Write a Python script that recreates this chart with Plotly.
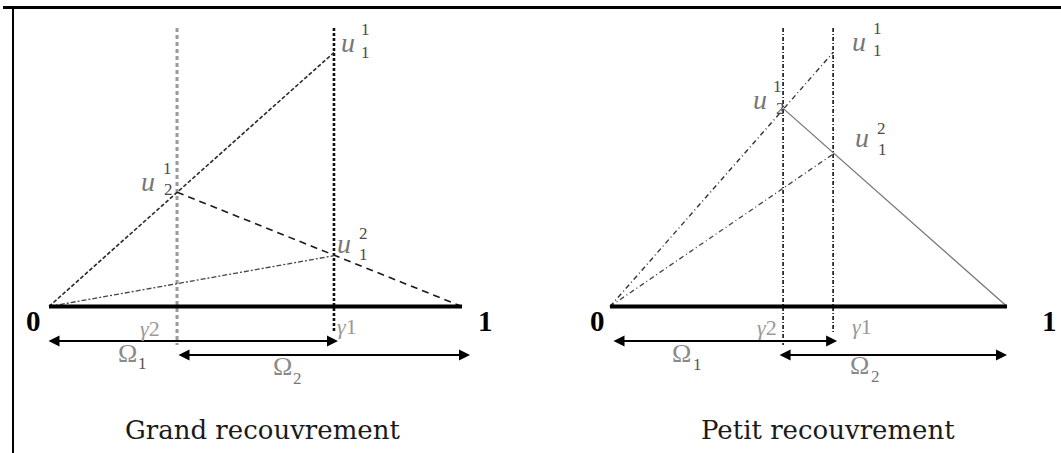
import plotly.graph_objects as go

# ---------------- data ----------------
panel_titles = ["Grand recouvrement", "Petit recouvrement"]
gamma1 = [0.69, 0.562]     # right end of Omega_1
gamma2 = [0.31, 0.436]     # left end of Omega_2
u1_1 = [1.00, 1.00]        # u_1^1 at gamma1
u2_1 = [0.45, 0.78]        # u_2^1 at gamma2
u1_2 = [0.20, 0.60]        # u_1^2 at gamma1

# ---------------- layout constants ----------------
W, H = 1061, 453
ORIG = [49, 610]      # pixel of x=0 for each panel
SCALE = [413, 397]    # pixels per unit x for each panel
Y0, YS = 306.5, 254   # pixel of y=0, pixels per unit y
XREF = ["x", "x2"]

SERIF = "Liberation Serif"

fig = go.Figure()

def seg(p, xs, ys, color, width, dash):
    fig.add_trace(go.Scatter(x=xs, y=ys, mode="lines", xaxis=XREF[p], yaxis="y",
                             line=dict(color=color, width=width, dash=dash),
                             hoverinfo="skip", showlegend=False))

def ytop(px):
    return (Y0 - px) / YS

line_styles = [
    dict(A=("#2a2a2a", 1.6, "4px,2px"), B=("#1a1a1a", 1.6, "7px,5px"),
         C=("#444444", 1.3, "5px,2px,2px,2px"),
         V2=("#9a9a9a", 3.0, "4px,3px"), V1=("#111111", 2.6, "3px,2px")),
    dict(A=("#333333", 1.4, "5px,3px,1px,3px"), B=("#777777", 1.3, "solid"),
         C=("#444444", 1.3, "5px,3px,1px,3px"),
         V2=("#111111", 1.6, "4px,2px,1px,2px"), V1=("#111111", 1.6, "4px,2px,1px,2px")),
]

v_top = ytop(28)
v2_bot = ytop(345)
v1_bot = ytop(333)

for p in range(2):
    st = line_styles[p]
    # vertical interface lines
    seg(p, [gamma2[p], gamma2[p]], [v_top, v2_bot], *st["V2"])
    seg(p, [gamma1[p], gamma1[p]], [v_top, v1_bot], *st["V1"])
    # iterates
    seg(p, [0, gamma1[p]], [0, u1_1[p]], *st["A"])
    seg(p, [gamma2[p], 1], [u2_1[p], 0], *st["B"])
    seg(p, [0, gamma1[p]], [0, u1_2[p]], *st["C"])
    # domain [0,1]
    seg(p, [0, 1], [0, 0], "#000000", 4, "solid")

ann = []

def label(p, x, y, text, dx, dy, size, color, family=SERIF, bold=False):
    if bold:
        text = "<b>" + text + "</b>"
    ann.append(dict(x=x, y=y, xref=XREF[p], yref="y", text=text, showarrow=False,
                    xshift=dx, yshift=dy, xanchor="center", yanchor="middle",
                    borderpad=0,
                    font=dict(family=family, size=size, color=color)))

def arrow(p, x0, x1, ypx):
    yv = ytop(ypx)
    ann.append(dict(x=x1, y=yv, ax=x0, ay=yv, xref=XREF[p], yref="y",
                    axref=XREF[p], ayref="y", text="", showarrow=True,
                    arrowhead=2, startarrowhead=2, arrowside="end+start",
                    arrowsize=1.1, startarrowsize=1.1, arrowwidth=2,
                    arrowcolor="#000000", standoff=0, startstandoff=0))

# Omega arrows (pixel tweaks converted to data)
arrow_ext = [dict(o1=(-2, 4), o2=(0, 8)), dict(o1=(2, 4), o2=(-5, 0))]
for p in range(2):
    s = SCALE[p]
    e = arrow_ext[p]
    arrow(p, 0 + e["o1"][0] / s, gamma1[p] + e["o1"][1] / s, 341)
    arrow(p, gamma2[p] + e["o2"][0] / s, 1 + e["o2"][1] / s, 355)

U_COL, D_COL = "#777777", "#4a4a4a"
U_SIZE, D_SIZE = 28, 17

# label offsets (pixels) per panel: (u dx,dy), (sup dx,dy), (sub dx,dy)
u_off = [
    dict(u11=[(14, 10), (32, 23), (32, 0)], u21=[(-29, 11), (-10, 24), (-9, 3)],
         u12=[(10, 12), (30, 22), (30, 1)]),
    dict(u11=[(26, 11), (44, 24), (44, 2)], u21=[(-23, 9), (-6, 22), (-3, 0)],
         u12=[(29, 17), (48, 26), (49, 5)]),
]
for p in range(2):
    o = u_off[p]
    pts = dict(u11=(gamma1[p], u1_1[p], "1", "1"),
               u21=(gamma2[p], u2_1[p], "1", "2"),
               u12=(gamma1[p], u1_2[p], "2", "1"))
    for k, (x, y, sup, sub) in pts.items():
        label(p, x, y, "<i>u</i>", *o[k][0], U_SIZE, U_COL)
        label(p, x, y, sup, *o[k][1], D_SIZE, D_COL)
        label(p, x, y, sub, *o[k][2], D_SIZE, D_COL)

# 0 and 1 end labels
end_off = [dict(z=(-16, -14), o=(23, -14.5)), dict(z=(-13, -14), o=(42, -14.5))]
for p in range(2):
    label(p, 0, 0, "0", *end_off[p]["z"], 29, "#000000", bold=True)
    label(p, 1, 0, "1", *end_off[p]["o"], 29, "#000000", bold=True)

# gamma labels
g_off = [dict(g2=(-27, -21.5), g1=(13, -20)), dict(g2=(-16, -21), g1=(29, -20))]
for p in range(2):
    label(p, gamma2[p], 0, "<i>γ</i>2", *g_off[p]["g2"], 22, "#999999")
    label(p, gamma1[p], 0, "<i>γ</i>1", *g_off[p]["g1"], 22, "#999999")

# Omega labels
om_off = [dict(o1=[(78, -46.5), (93, -56.5)], o2=[(105, -59.5), (120, -71.5)]),
          dict(o1=[(71, -46.5), (87, -57.5)], o2=[(76, -58.5), (92, -69.5)])]
OM_COL = "#8a8a8a"
for p in range(2):
    o = om_off[p]
    label(p, 0, 0, "Ω", *o["o1"][0], 26, OM_COL)
    label(p, 0, 0, "1", *o["o1"][1], 17, "#555555")
    label(p, gamma2[p], 0, "Ω", *o["o2"][0], 26, OM_COL)
    label(p, gamma2[p], 0, "2", *o["o2"][1], 17, "#777777")

# panel titles
title_x = [262.5, 827.5]
for p in range(2):
    ann.append(dict(x=title_x[p] / W, y=1 - 430 / H, xref="paper", yref="paper",
                    text=panel_titles[p], showarrow=False, xanchor="center",
                    yanchor="middle", borderpad=0,
                    font=dict(family="DejaVu Serif", size=26, color="#1a1a1a")))

# frame lines
shapes = [
    dict(type="line", xref="paper", yref="paper", x0=3 / W, x1=1, y0=1 - 7.5 / H,
         y1=1 - 7.5 / H, line=dict(color="#000000", width=3)),
    dict(type="line", xref="paper", yref="paper", x0=13 / W, x1=13 / W,
         y0=1 - 7 / H, y1=0, line=dict(color="#000000", width=2)),
]

fig.update_layout(
    width=W, height=H, autosize=False,
    margin=dict(l=0, r=0, t=0, b=0),
    paper_bgcolor="white", plot_bgcolor="white",
    showlegend=False,
    xaxis=dict(range=[-ORIG[0] / SCALE[0], (W - ORIG[0]) / SCALE[0]], domain=[0, 1],
               visible=False, fixedrange=True),
    xaxis2=dict(range=[-ORIG[1] / SCALE[1], (W - ORIG[1]) / SCALE[1]], domain=[0, 1],
                overlaying="x", visible=False, fixedrange=True),
    yaxis=dict(range=[-(H - Y0) / YS, Y0 / YS], domain=[0, 1], visible=False,
               fixedrange=True),
    annotations=ann,
    shapes=shapes,
)

fig.write_html("out.html", config={"displayModeBar": False},
               post_script="document.body.style.margin='0px';"
                           "document.body.style.overflow='hidden';")
